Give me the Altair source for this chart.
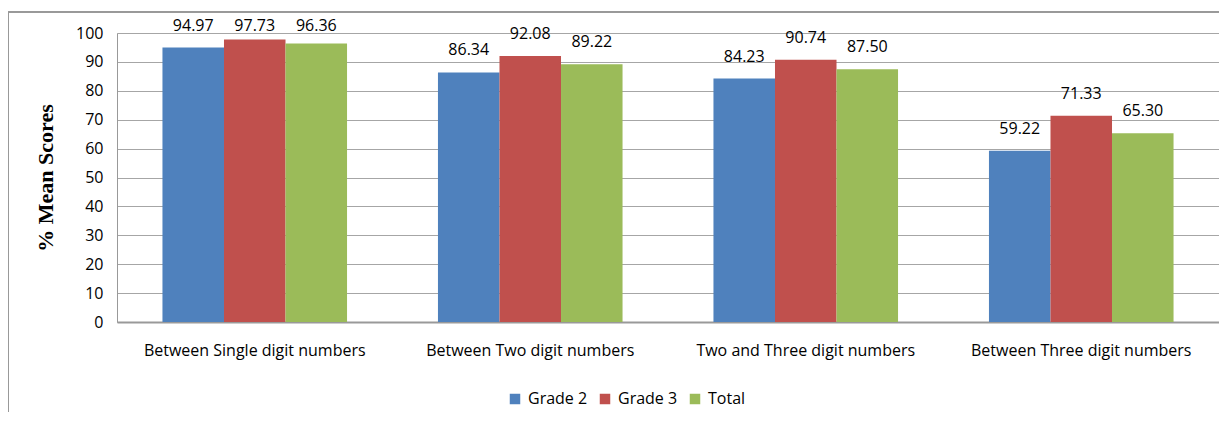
import altair as alt
import pandas as pd

categories = ["Between Single digit numbers", "Between Two digit numbers",
              "Two and Three digit numbers", "Between Three digit numbers"]
series = ["Grade 2", "Grade 3", "Total"]
grade2 = [94.97, 86.34, 84.23, 59.22]
grade3 = [97.73, 92.08, 90.74, 71.33]
total = [96.36, 89.22, 87.50, 65.30]
colors = ["#4F81BD", "#C0504D", "#9BBB59"]

rows = []
for i, c in enumerate(categories):
    for s, vals in zip(series, [grade2, grade3, total]):
        rows.append({"category": c, "series": s, "value": vals[i]})
df = pd.DataFrame(rows)

FONT = "Open Sans"
FS = 16

yaxis = alt.Axis(values=list(range(0, 101, 10)), labelFont=FONT,
                 labelFontSize=FS, labelColor="#000000", labelPadding=14,
                 ticks=False, domainColor="#999999", domainWidth=1,
                 gridColor="#a6a6a6", gridWidth=1,
                 titleFont="Liberation Serif", titleFontSize=22,
                 titleFontWeight="bold", titleColor="#000000",
                 titlePadding=18)

base = alt.Chart(df).encode(
    x=alt.X("category:N", sort=categories, title=None,
            scale=alt.Scale(paddingInner=0.33, paddingOuter=0.165),
            axis=alt.Axis(labelAngle=0, labelFont=FONT, labelFontSize=FS,
                          labelColor="#000000", labelPadding=20, ticks=False,
                          labelLimit=0,
                          domainColor="#999999", domainWidth=2, grid=False)),
    xOffset=alt.XOffset("series:N", sort=series, scale=alt.Scale(paddingInner=0, paddingOuter=0)),
)

bars = base.mark_bar().encode(
    y=alt.Y("value:Q", title="% Mean Scores",
            scale=alt.Scale(domain=[0, 100]), axis=yaxis),
    color=alt.Color("series:N", sort=series,
                    scale=alt.Scale(domain=series, range=colors),
                    legend=alt.Legend(title=None, orient="none", direction="horizontal",
                                      legendX=390, legendY=358, symbolType="square",
                                      symbolSize=110, symbolStrokeWidth=0,
                                      labelFont=FONT, labelFontSize=FS,
                                      labelColor="#000000", columnPadding=9,
                                      labelOffset=5)),
)

labels = base.transform_calculate(
    labelpos="min(datum.value, 94.97)"
).mark_text(dy=-14, baseline="bottom", font=FONT, fontSize=FS, color="#000000").encode(
    y=alt.Y("labelpos:Q", scale=alt.Scale(domain=[0, 100]), axis=yaxis, title="% Mean Scores"),
    text=alt.Text("value:Q", format=".2f"),
)

frame_left = alt.Chart(df).mark_rule(color="#999999", strokeWidth=1).encode(
    x=alt.value(-108.5), y=alt.value(-21), y2=alt.value(400))
frame_top = alt.Chart(df).mark_rule(color="#999999", strokeWidth=1).encode(
    x=alt.value(-108.5), x2=alt.value(1120), y=alt.value(-21))

chart = alt.layer(frame_left, frame_top, bars, labels).properties(
    width=1102, height=289,
    autosize=alt.AutoSizeParams(type="none"),
    padding={"left": 109, "top": 25, "right": 0, "bottom": 90},
).configure_view(stroke=None).configure(background="white")

chart.save("out.html", embed_options={"renderer": "svg", "actions": False})
